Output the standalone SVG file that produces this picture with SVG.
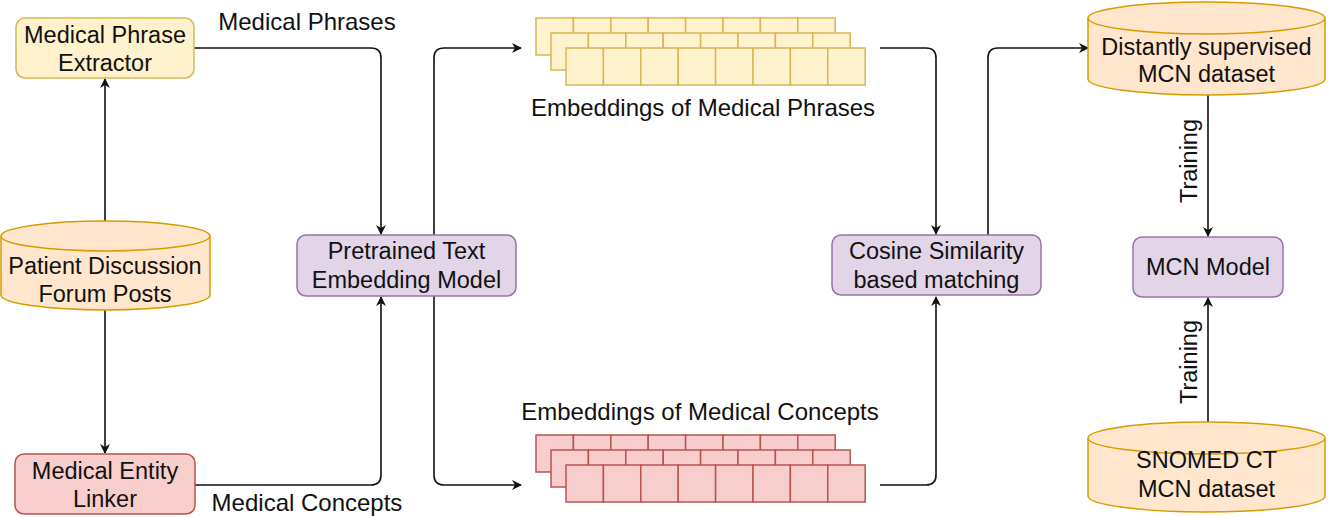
<svg xmlns="http://www.w3.org/2000/svg" width="1328" height="517" viewBox="0 0 1328 517">
<style>
text{font-family:"Liberation Sans",Arial,sans-serif;font-size:23.5px;fill:#111;text-anchor:middle}
.lbl{font-size:24px}
.y{fill:#fff2cc;stroke:#d6b656;stroke-width:1.5}
.o{fill:#ffe6cc;stroke:#d79b00;stroke-width:1.5}
.r{fill:#f8cecc;stroke:#b85450;stroke-width:1.5}
.p{fill:#e1d5e7;stroke:#9673a6;stroke-width:1.5}
.e{fill:none;stroke:#111;stroke-width:1.6}
</style>
<defs>
<marker id="ah" viewBox="0 0 10 10" refX="9" refY="5" markerWidth="10" markerHeight="10" markerUnits="userSpaceOnUse" orient="auto">
<path d="M0,0 L10,5 L0,10 L3,5 Z" fill="#111"/>
</marker>
<g id="rowY">
<rect class="y" x="0" y="0" width="37.4" height="37"/><rect class="y" x="37.4" y="0" width="37.4" height="37"/><rect class="y" x="74.8" y="0" width="37.4" height="37"/><rect class="y" x="112.2" y="0" width="37.4" height="37"/><rect class="y" x="149.6" y="0" width="37.4" height="37"/><rect class="y" x="187" y="0" width="37.4" height="37"/><rect class="y" x="224.4" y="0" width="37.4" height="37"/><rect class="y" x="261.8" y="0" width="37.4" height="37"/>
</g>
<g id="rowR">
<rect class="r" x="0" y="0" width="37.4" height="37"/><rect class="r" x="37.4" y="0" width="37.4" height="37"/><rect class="r" x="74.8" y="0" width="37.4" height="37"/><rect class="r" x="112.2" y="0" width="37.4" height="37"/><rect class="r" x="149.6" y="0" width="37.4" height="37"/><rect class="r" x="187" y="0" width="37.4" height="37"/><rect class="r" x="224.4" y="0" width="37.4" height="37"/><rect class="r" x="261.8" y="0" width="37.4" height="37"/>
</g>
</defs>

<g id="connectors">
<path class="e" d="M105,221 V79" marker-end="url(#ah)"/>
<path class="e" d="M105,310 V453" marker-end="url(#ah)"/>
<path class="e" d="M194,48 H371 Q381,48 381,58 V234" marker-end="url(#ah)"/>
<path class="e" d="M195,485 H371 Q381,485 381,475 V297" marker-end="url(#ah)"/>
<path class="e" d="M434,235 V58 Q434,48 444,48 H521" marker-end="url(#ah)"/>
<path class="e" d="M434,296 V475 Q434,485 444,485 H521" marker-end="url(#ah)"/>
<path class="e" d="M880,48 H926 Q936,48 936,58 V234" marker-end="url(#ah)"/>
<path class="e" d="M880,485 H926 Q936,485 936,475 V297" marker-end="url(#ah)"/>
<path class="e" d="M988,235 V58 Q988,48 998,48 H1088" marker-end="url(#ah)"/>
<path class="e" d="M1208,95 V236" marker-end="url(#ah)"/>
<path class="e" d="M1208,422 V298" marker-end="url(#ah)"/>
<text class="lbl" x="307" y="30">Medical Phrases</text>
<text class="lbl" x="307" y="511">Medical Concepts</text>
<text transform="translate(1197,161) rotate(-90)">Training</text>
<text transform="translate(1197,362) rotate(-90)">Training</text>
</g>

<g id="extractor">
<rect class="y" x="16" y="18" width="178" height="60" rx="9"/>
<text x="105" y="43">Medical Phrase</text>
<text x="105" y="71">Extractor</text>
</g>

<g id="forum">
<path class="o" d="M1,236 A104.5,15 0 0 1 210,236 V295 A104.5,15 0 0 1 1,295 Z"/>
<path class="o" d="M1,236 A104.5,15 0 0 0 210,236" fill="none"/>
<text x="105" y="274">Patient Discussion</text>
<text x="105" y="302">Forum Posts</text>
</g>

<g id="linker">
<rect class="r" x="15" y="454" width="180" height="60" rx="9"/>
<text x="105" y="479">Medical Entity</text>
<text x="105" y="507">Linker</text>
</g>

<g id="pretrained">
<rect class="p" x="297" y="235" width="219" height="61" rx="9"/>
<text x="406.5" y="259">Pretrained Text</text>
<text x="406.5" y="288">Embedding Model</text>
</g>

<g id="phraseEmb">
<use href="#rowY" x="536" y="18"/>
<use href="#rowY" x="551" y="33"/>
<use href="#rowY" x="566" y="48"/>
<text class="lbl" x="703" y="116">Embeddings of Medical Phrases</text>
</g>

<g id="conceptEmb">
<use href="#rowR" x="536" y="435"/>
<use href="#rowR" x="551" y="450"/>
<use href="#rowR" x="566" y="465"/>
<text class="lbl" x="700" y="420">Embeddings of Medical Concepts</text>
</g>

<g id="cosine">
<rect class="p" x="832" y="235" width="209" height="60" rx="9"/>
<text x="936.5" y="259">Cosine Similarity</text>
<text x="936.5" y="288">based matching</text>
</g>

<g id="distant">
<path class="o" d="M1088,18 A118.5,16 0 0 1 1325,18 V79 A118.5,16 0 0 1 1088,79 Z"/>
<path class="o" d="M1088,18 A118.5,16 0 0 0 1325,18" fill="none"/>
<text x="1206.5" y="55">Distantly supervised</text>
<text x="1206.5" y="82">MCN dataset</text>
</g>

<g id="mcn">
<rect class="p" x="1133" y="237" width="150" height="60" rx="9"/>
<text x="1208" y="275">MCN Model</text>
</g>

<g id="snomed">
<path class="o" d="M1088,438 A118.5,16 0 0 1 1325,438 V496 A118.5,16 0 0 1 1088,496 Z"/>
<path class="o" d="M1088,438 A118.5,16 0 0 0 1325,438" fill="none"/>
<text x="1206.5" y="468">SNOMED CT</text>
<text x="1206.5" y="497">MCN dataset</text>
</g>
</svg>
